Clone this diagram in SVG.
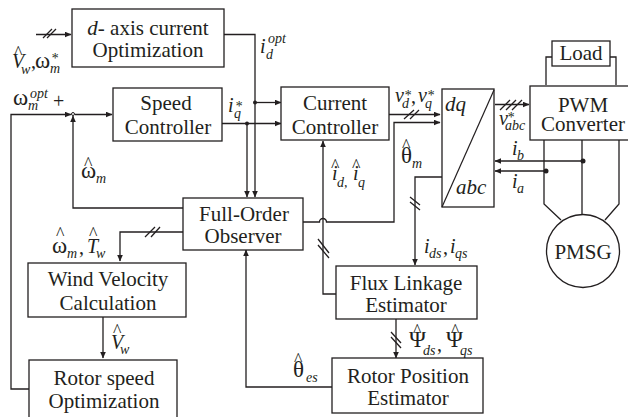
<svg xmlns="http://www.w3.org/2000/svg" width="628" height="417" viewBox="0 0 628 417">
<style>
text{font-family:"Liberation Serif","Times New Roman",serif;fill:#231f20}
.n{font-size:21px;text-anchor:middle}
.v{font-size:20px;font-style:italic}
.u{font-size:20px}
.g{font-size:23px}
.s{font-size:14px;font-style:italic}
.h{font-size:18px;font-style:normal}
rect,circle.b{fill:#fff;stroke:#231f20;stroke-width:1.3}
#connectors path{fill:none;stroke:#231f20;stroke-width:1.3}
#connectors path.a{marker-end:url(#arr)}
#connectors circle{fill:#231f20}
</style>
<defs><marker id="arr" markerUnits="userSpaceOnUse" markerWidth="7" markerHeight="6" refX="6" refY="3" orient="auto"><path d="M0,0.2L6.500,3L0,5.800z" fill="#231f20"/></marker></defs>
<rect width="628" height="417" style="fill:#fff;stroke:none"/>
<g id="connectors">
<path class="a" d="M36,34.500H71"/><path d="M43,38L52,29M47,38L56,29"/>
<path class="a" d="M224,34.500H255V197"/>
<path class="a" d="M255,102.500H281"/>
<circle cx="255" cy="102.500" r="2"/>
<path class="a" d="M222,123.500H281"/>
<path class="a" d="M247,123.500V197"/>
<circle cx="247" cy="123.500" r="2"/>
<path class="a" d="M183,208H73V116"/>
<path class="a" d="M29,389H11V114.500H71"/>
<path class="a" d="M75,114.500H112"/>
<circle cx="73" cy="114" r="1.500" style="fill:#fff;stroke:#231f20;stroke-width:1"/>
<path class="a" d="M183,232H120V261"/><path d="M145,237L155,227M151,237L160,227"/>
<path class="a" d="M103,317V358"/>
<path class="a" d="M332,387H246V250"/>
<path class="a" d="M336,294H323V141"/><path d="M318,239L329,253M318,245L329,258"/>
<path class="a" d="M303,222H319.500A3.500,3.500 0 0 1 326.500,222H394V122.500H440"/>
<path class="a" d="M389,114.500H440"/><path d="M404,119L414,110M410,119L419,110"/>
<path class="a" d="M442,177H415V265"/><path d="M410,197L420,205M410,202L420,210"/>
<path class="a" d="M495,104.500H529"/><path d="M500,110L510,100M506,110L516,100M512,110L522,100"/>
<path class="a" d="M583,161H495"/><circle cx="583" cy="161" r="2.500"/>
<path class="a" d="M546,171H495"/><circle cx="546" cy="171" r="2.500"/>
<path d="M544,140V204L561,220M582,140V214M619,140V204L605,220"/>
<path d="M552,57H546V85M610,57H616V85"/>
<path class="a" d="M396,319V358"/><path d="M391,332L401,343M391,337L401,348"/>
</g>
<g id="d-axis"><rect x="72" y="9" width="152" height="58"/><text class="n" x="148" y="35"><tspan font-style="italic">d</tspan>- axis current</text><text class="n" x="148" y="57">Optimization</text></g>
<g id="speed"><rect x="113" y="88" width="109" height="53"/><text class="n" x="166" y="110">Speed</text><text class="n" x="168" y="134">Controller</text></g>
<g id="current"><rect x="281" y="87" width="108" height="53"/><text class="n" x="335" y="110">Current</text><text class="n" x="335" y="134">Controller</text></g>
<g id="dq"><rect x="442" y="89" width="52" height="118"/><path d="M494,90L442,207" fill="none" stroke="#231f20" stroke-width="1.200"/><text class="v" x="445" y="111" style="font-size:21px">dq</text><text class="v" x="456" y="194" style="font-size:21px">abc</text></g>
<g id="pwm"><rect x="530" y="86" width="99" height="54"/><text class="n" x="583" y="112">PWM</text><text class="n" x="583" y="131">Converter</text></g>
<g id="load"><rect x="552" y="41" width="58" height="25"/><text class="n" x="581" y="60">Load</text></g>
<g id="observer"><rect x="183" y="198" width="120" height="52"/><text class="n" x="244" y="221">Full-Order</text><text class="n" x="243" y="243">Observer</text></g>
<g id="wind"><rect x="28" y="263" width="158" height="54"/><text class="n" x="108" y="286">Wind Velocity</text><text class="n" x="108" y="310">Calculation</text></g>
<g id="rotor-speed"><rect x="29" y="360" width="148" height="62"/><text class="n" x="104" y="385">Rotor speed</text><text class="n" x="104" y="408">Optimization</text></g>
<g id="flux"><rect x="336" y="266" width="141" height="53"/><text class="n" x="406" y="290">Flux Linkage</text><text class="n" x="406" y="312">Estimator</text></g>
<g id="rotor-pos"><rect x="332" y="358" width="151" height="55"/><text class="n" x="408" y="383">Rotor Position</text><text class="n" x="408" y="405">Estimator</text></g>
<g id="pmsg"><circle class="b" cx="583" cy="251" r="36.500"/><text class="n" x="583" y="259">PMSG</text></g>
<g id="labels">
<text><tspan class="h" x="14" y="59">^</tspan><tspan class="v" x="12" y="68">V</tspan><tspan class="s" x="21" y="74">w</tspan><tspan class="u" x="31" y="68">,</tspan><tspan class="g" x="35" y="68">ω</tspan><tspan class="s" x="51" y="63">*</tspan><tspan class="s" x="50" y="73">m</tspan></text>
<text><tspan class="g" x="13" y="105">ω</tspan><tspan class="s" x="30" y="98">opt</tspan><tspan class="s" x="28" y="110">m</tspan><tspan class="u" x="53" y="108">+</tspan></text>
<text><tspan class="v" x="260" y="53">i</tspan><tspan class="s" x="268" y="43">opt</tspan><tspan class="s" x="266" y="59">d</tspan></text>
<text><tspan class="v" x="228" y="112">i</tspan><tspan class="s" x="235" y="111">*</tspan><tspan class="s" x="234" y="118">q</tspan></text>
<text><tspan class="h" x="84" y="170">^</tspan><tspan class="g" x="81" y="178">ω</tspan><tspan class="s" x="96" y="183">m</tspan></text>
<text><tspan class="h" x="56" y="240">^</tspan><tspan class="g" x="52" y="253">ω</tspan><tspan class="s" x="67" y="258">m</tspan><tspan class="u" x="79" y="254">,</tspan><tspan class="h" x="89" y="240">^</tspan><tspan class="v" x="87" y="253">T</tspan><tspan class="s" x="96" y="258">w</tspan></text>
<text><tspan class="h" x="113" y="337">^</tspan><tspan class="v" x="111" y="349">V</tspan><tspan class="s" x="120" y="354">w</tspan></text>
<text><tspan class="v" x="395" y="102">v</tspan><tspan class="s" x="404" y="100">*</tspan><tspan class="s" x="402" y="108">d</tspan><tspan class="u" x="411" y="103">,</tspan><tspan class="v" x="418" y="102">v</tspan><tspan class="s" x="427" y="100">*</tspan><tspan class="s" x="425" y="108">q</tspan></text>
<text><tspan class="v" x="499" y="125">v</tspan><tspan class="s" x="507" y="122">*</tspan><tspan class="s" x="505" y="130">abc</tspan></text>
<text><tspan class="h" x="402" y="152">^</tspan><tspan class="g" x="401" y="163">θ</tspan><tspan class="s" x="412" y="168">m</tspan></text>
<text><tspan class="h" x="331" y="172">^</tspan><tspan class="v" x="332" y="180">i</tspan><tspan class="s" x="337" y="187">d,</tspan><tspan class="h" x="352" y="172">^</tspan><tspan class="v" x="353" y="180">i</tspan><tspan class="s" x="358" y="187">q</tspan></text>
<text><tspan class="v" x="512" y="155">i</tspan><tspan class="s" x="517" y="160">b</tspan></text>
<text><tspan class="v" x="512" y="188">i</tspan><tspan class="s" x="517" y="193">a</tspan></text>
<text><tspan class="v" x="424" y="253">i</tspan><tspan class="s" x="429" y="258">ds</tspan><tspan class="u" x="443" y="254">,</tspan><tspan class="v" x="450" y="253">i</tspan><tspan class="s" x="455" y="258">qs</tspan></text>
<text><tspan class="h" x="413" y="337">^</tspan><tspan class="g" x="409" y="347">Ψ</tspan><tspan class="s" x="423" y="355">ds</tspan><tspan class="u" x="437" y="351">,</tspan><tspan class="h" x="451" y="337">^</tspan><tspan class="g" x="446" y="347">Ψ</tspan><tspan class="s" x="460" y="355">qs</tspan></text>
<text><tspan class="h" x="294" y="366">^</tspan><tspan class="g" x="293" y="377">θ</tspan><tspan class="s" x="306" y="382">es</tspan></text>
</g>
</svg>
